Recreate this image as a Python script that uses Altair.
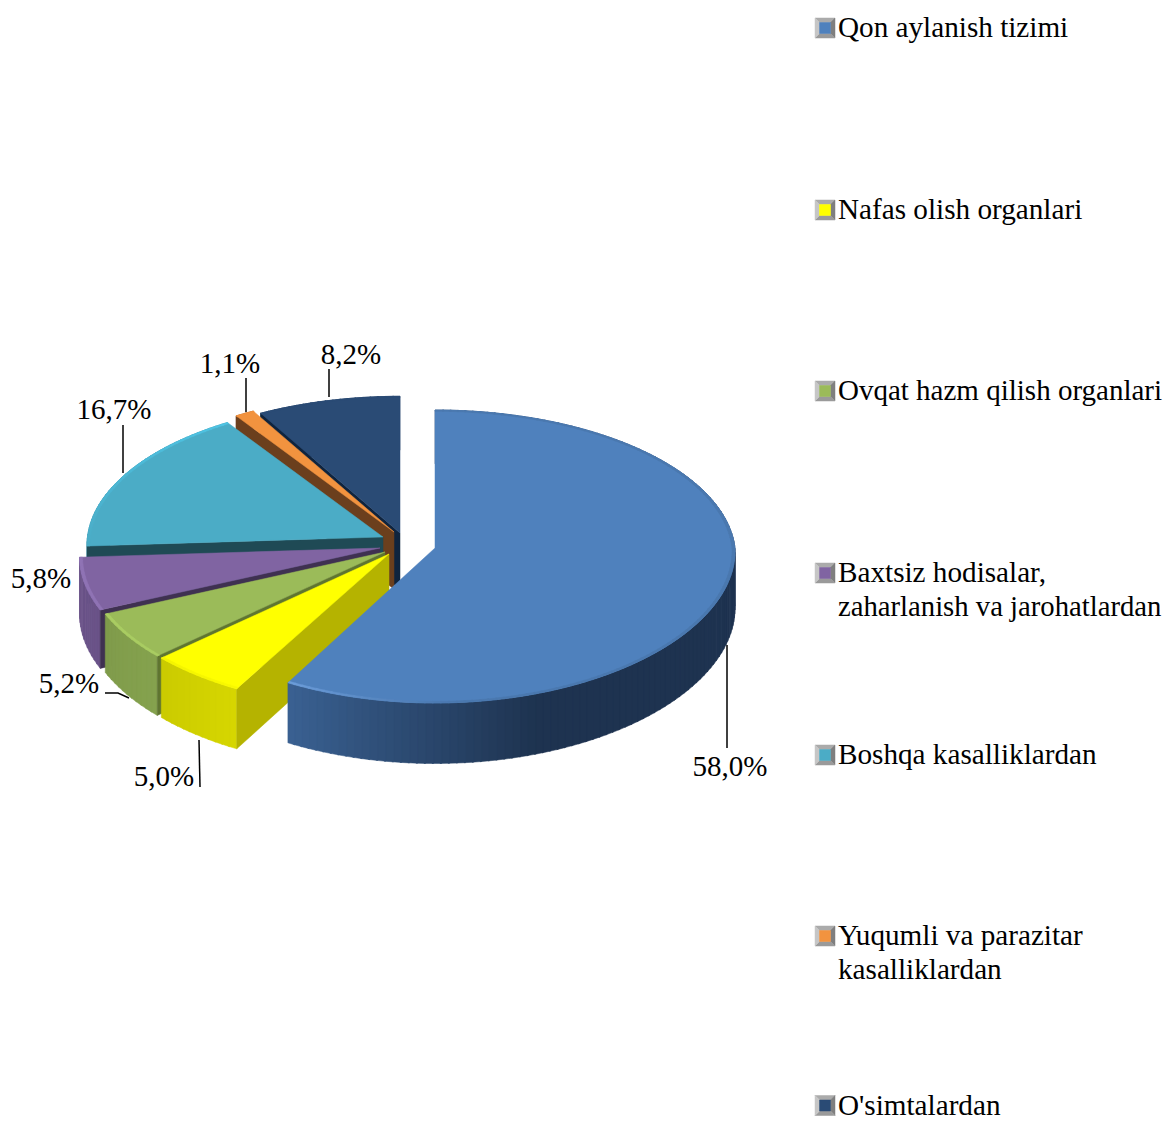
import math
import altair as alt
import pandas as pd

# ---- chart values ----
categories = ["Qon aylanish tizimi", "Nafas olish organlari", "Ovqat hazm qilish organlari",
              "Baxtsiz hodisalar, zaharlanish va jarohatlardan", "Boshqa kasalliklardan",
              "Yuqumli va parazitar kasalliklardan", "O'simtalardan"]
shares = [58.0, 5.0, 5.2, 5.8, 16.7, 1.1, 8.2]
legend_lines = [["Qon aylanish tizimi"], ["Nafas olish organlari"], ["Ovqat hazm qilish organlari"],
                ["Baxtsiz hodisalar,", "zaharlanish va jarohatlardan"], ["Boshqa kasalliklardan"],
                ["Yuqumli va parazitar", "kasalliklardan"], ["O'simtalardan"]]

# ---- styles and layout (page pixels) ----
top_col = ["#4F81BD", "#FFFF00", "#9BBB59", "#8064A2", "#4BACC6", "#F2933F", "#2A4B75"]
rim_a = ["#3A6192", "#CBCB00", "#7F9B4B", "#6A5388", "#3D91A7", "#6B3F1D", "#1F3A5C"]
rim_b = ["#1E3350", "#D6D600", "#85A24E", "#6A5388", "#3D91A7", "#6B3F1D", "#1F3A5C"]
face_col = [None, "#B5B300", "#5F7530", "#3F3151", "#1F4A55", "#6B3F1D", "#0F243E"]
bevel_a = ["#6C9DDA", "#F4F400", "#A9CC62", "#8F73B4", "#4FC4E4", "#F2933F", "#2A4B75"]
bevel_b = ["#4A78AF", "#F8F800", "#A9CC62", "#8F73B4", "#4BACC6", "#F2933F", "#2A4B75"]
apex = [(435, 548), (389, 554), (385, 552), (380, 548), (383, 537), (394, 532), (400, 533)]
radius_factor = [1.0, 1.0, 1.0, 1.0, 0.985, 1.0, 0.99]
R, B, K, DEPTH = 300.0, 146.0, 0.058, 57.0
paint_order = [6, 5, 4, 3, 2, 1, 0]


def project(i, theta, frac=1.0):
    t = math.radians(theta)
    frac = frac * radius_factor[i]
    Y = -math.cos(t) * frac
    s = 1.0 / (1.0 - K * Y)
    sx = 1.0 / (1.0 - 0.02 * Y) if i == 0 and Y > 0 else s
    return apex[i][0] + R * frac * math.sin(t) * sx, apex[i][1] + B * Y * s, s


def mix(a, b, f):
    f = max(0.0, min(1.0, f))
    ca = [int(a[j:j + 2], 16) for j in (1, 3, 5)]
    cb = [int(b[j:j + 2], 16) for j in (1, 3, 5)]
    return "#%02x%02x%02x" % tuple(round(p + (q - p) * f) for p, q in zip(ca, cb))


starts = []
acc = 0.0
for v in shares:
    starts.append(acc)
    acc += v
rows = []
pid = 0


def add_poly(points, colour):
    global pid
    pid += 1
    for n, (x, y) in enumerate(points):
        rows.append({"pid": f"p{pid:04d}", "n": n, "px": x, "py": y, "col": colour})


for i in paint_order:
    a0 = starts[i] * 3.6
    a1 = (starts[i] + shares[i]) * 3.6
    steps = max(2, int((a1 - a0) / 1.5))
    # outer wall
    for k in range(steps):
        t0 = a0 + (a1 - a0) * k / steps
        t1 = min(a1, a0 + (a1 - a0) * (k + 1.2) / steps)
        x0, y0, s0 = project(i, t0)
        x1, y1, s1 = project(i, t1)
        done = (k + 0.5) / steps
        if i == 0:
            colour = mix(rim_b[i], rim_a[i], (done - 0.77) / 0.23)
        else:
            colour = mix(rim_b[i], rim_a[i], done)
        add_poly([(x0, y0), (x1, y1), (x1, y1 + DEPTH * s1), (x0, y0 + DEPTH * s0)], colour)
    # visible cut face
    if face_col[i]:
        cx, cy, cs = project(i, a0)
        ax, ay = apex[i]
        add_poly([(ax, ay), (cx, cy), (cx, cy + DEPTH * cs), (ax, ay + DEPTH)], face_col[i])
    # top face
    pts = [apex[i]]
    for k in range(steps * 2 + 1):
        x, y, _ = project(i, a0 + (a1 - a0) * k / (steps * 2))
        pts.append((x, y))
    add_poly(pts, top_col[i])
    # bevel along the outer edge of the top face
    for k in range(steps):
        t0 = a0 + (a1 - a0) * k / steps
        t1 = min(a1, a0 + (a1 - a0) * (k + 1.2) / steps)
        p0 = project(i, t0)
        p1 = project(i, t1)
        q1 = project(i, t1, 0.99)
        q0 = project(i, t0, 0.99)
        done = (k + 0.5) / steps
        if i == 0:
            colour = mix(bevel_b[i], bevel_a[i], (done - 0.85) / 0.15)
        else:
            colour = mix(bevel_b[i], bevel_a[i], done)
        add_poly([p0[:2], p1[:2], q1[:2], q0[:2]], colour)

# legend keys: a bevelled grey frame round a coloured centre
legend_y = [28, 210, 391, 573, 755, 936, 1105.5]
key_x = 825.0
for ly, colour in zip(legend_y, top_col):
    o, n = 10.0, 5.5
    l, r, t, b = key_x - o, key_x + o, ly - o, ly + o
    il, ir, it, ib = key_x - n, key_x + n, ly - n, ly + n
    add_poly([(l, t), (r, t), (ir, it), (il, it)], "#ABABAB")
    add_poly([(r, t), (r, b), (ir, ib), (ir, it)], "#7F7F7F")
    add_poly([(l, b), (r, b), (ir, ib), (il, ib)], "#9A9A9A")
    add_poly([(l, t), (l, b), (il, ib), (il, it)], "#C6C6C6")
    add_poly([(il, it), (ir, it), (ir, ib), (il, ib)], colour)

polys = pd.DataFrame(rows)

x_scale = alt.Scale(domain=[8, 1163], range=[0, 1155], nice=False, zero=False)
y_scale = alt.Scale(domain=[8, 1121], range=[0, 1113], nice=False, zero=False)
X = alt.X("px:Q", scale=x_scale, axis=None)
Y = alt.Y("py:Q", scale=y_scale, axis=None)

pie = alt.Chart(polys).mark_line(filled=True, strokeWidth=0.5, interpolate="linear-closed").encode(
    x=X, y=Y, detail="pid:N", order="n:Q",
    fill=alt.Fill("col:N", scale=None),
    stroke=alt.Stroke("col:N", scale=None),
)

# leader lines
leaders = [[(727, 645), (727, 748)], [(199, 740), (200, 787)], [(105, 693), (118, 693), (129, 698)],
           [(123, 425), (123, 473)], [(246, 378), (246, 412)], [(329, 369), (329, 397)]]
lead_rows = [{"pid": f"l{a}", "n": b, "px": p[0], "py": p[1]} for a, line in enumerate(leaders) for b, p in enumerate(line)]
lead = alt.Chart(pd.DataFrame(lead_rows)).mark_line(color="#000000", strokeWidth=1.5).encode(
    x=X, y=Y, detail="pid:N", order="n:Q")

# percentage labels
label_pos = [(730, 767), (164, 777), (69, 684), (41, 579), (114, 410), (230, 364), (351, 355)]
labels = pd.DataFrame({
    "px": [p[0] for p in label_pos], "py": [p[1] for p in label_pos],
    "t": [f"{v:.1f}".replace(".", ",") + "%" for v in shares]})
label_text = alt.Chart(labels).mark_text(font="Liberation Serif", fontSize=29, color="#000000",
                                         align="center", baseline="middle").encode(x=X, y=Y, text="t:N")

# legend text: the longest lines are set a little smaller so they stay inside the page
legend_rows = []
for ly, lines in zip(legend_y, legend_lines):
    for j, line in enumerate(lines):
        legend_rows.append({"px": 838, "py": ly + j * 34, "t": line,
                            "fs": 28.7 if len(line) > 27 else (29.0 if len(line) == 27 else 29.2)})
legend_text = alt.Chart(pd.DataFrame(legend_rows)).mark_text(
    font="Liberation Serif", color="#000000", align="left", baseline="middle"
).encode(x=X, y=Y, text="t:N", size=alt.Size("fs:Q", scale=None, legend=None))

chart = alt.layer(pie, lead, label_text, legend_text).properties(
    width=1155, height=1113, padding=0, autosize=alt.AutoSizeParams(type="none"), background="#FFFFFF",
).configure_view(stroke=None)

chart.save("out.html", embed_options={"renderer": "svg", "actions": False})
